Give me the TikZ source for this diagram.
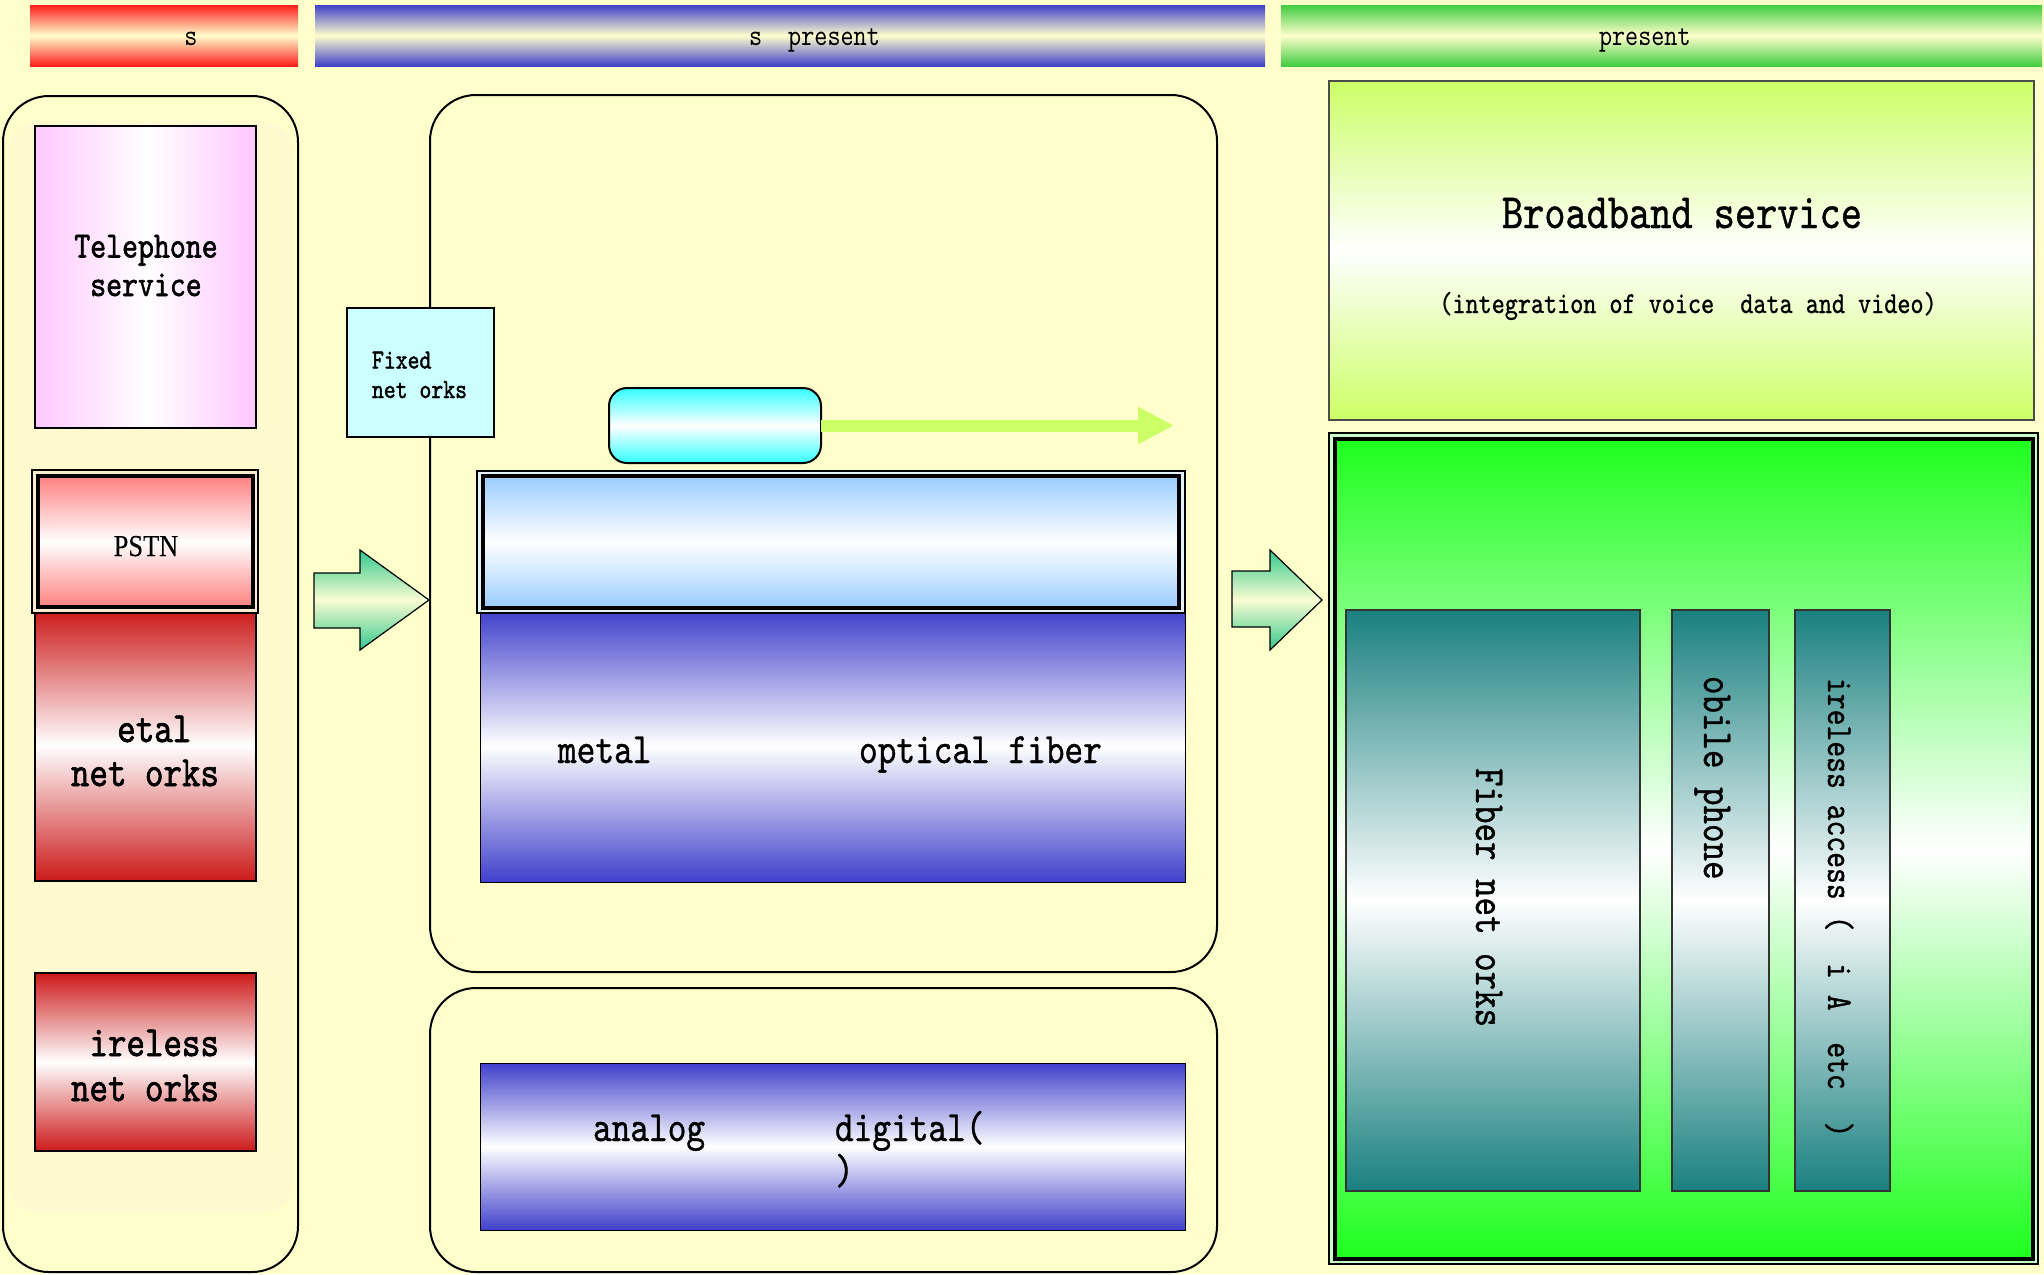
\documentclass[tikz,border=0pt]{standalone}
\usepackage{fontspec}
\usetikzlibrary{arrows.meta}
\newfontfamily\fntl{lmmono10-regular.otf}[FakeStretch=0.82]
\newfontfamily\fnt{lmmono10-regular.otf}[FakeStretch=0.82,FakeBold=0.8]
\newfontfamily\fntb{lmmono10-regular.otf}[FakeStretch=0.82,FakeBold=1.5]
\newfontfamily\pstnfont{Liberation Serif}[FakeStretch=0.87,FakeBold=0.3]
\definecolor{bgc}{RGB}{255,255,204}
\definecolor{texc}{RGB}{254,249,206}
\definecolor{redbar}{RGB}{255,30,30}
\definecolor{bluebar}{RGB}{64,64,204}
\definecolor{greenbar}{RGB}{64,204,64}
\definecolor{telpink}{RGB}{255,200,255}
\definecolor{pstnpink}{RGB}{255,128,128}
\definecolor{gappink}{RGB}{255,235,205}
\definecolor{darkred}{RGB}{204,26,26}
\definecolor{cyanc}{RGB}{51,255,255}
\definecolor{fixedc}{RGB}{204,255,255}
\definecolor{limec}{RGB}{204,255,102}
\definecolor{lblue}{RGB}{153,204,255}
\definecolor{gapblue}{RGB}{230,242,250}
\definecolor{brgreen}{RGB}{30,255,30}
\definecolor{gapgreen}{RGB}{200,255,200}
\definecolor{tealc}{RGB}{26,128,128}
\definecolor{arrg}{RGB}{50,200,140}
\definecolor{arrm}{RGB}{250,252,210}
\newcommand\mkbox[6]{%
  \pgfmathsetmacro\mbcx{(#3+#5)/2}%
  \pgfmathsetmacro\mbcy{(#4+#6)/2}%
  \pgfmathsetmacro\mbw{(#5-#3)/2}%
  \pgfmathsetmacro\mbh{(#6-#4)/2}%
  \node[#1,minimum width=\mbw pt,minimum height=\mbh pt,inner sep=0pt,outer sep=0pt] (#2) at (\mbcx,\mbcy) {};}
\tikzset{
  vg/.style 2 args={top color=#1,bottom color=#1,middle color=#2},
  hg/.style 2 args={left color=#1,right color=#1,middle color=#2},
  thinbox/.style={draw=black,line width=0.9pt},
  container/.style={draw=black,line width=1pt,rounded corners=23pt},
  txt/.style={inner sep=0pt,outer sep=0pt},
  blockarrow/.style={draw=black,line width=0.6pt,top color=arrg,bottom color=arrg,middle color=arrm},
}
\begin{document}
\begin{tikzpicture}[x=0.5pt,y=-0.5pt]
\fill[bgc] (0,0) rectangle (2044,1274);
\useasboundingbox (0,0) rectangle (2044,1274);
% top bars
\mkbox{vg={redbar}{bgc}}{barA}{30}{5}{298}{66}
\mkbox{vg={bluebar}{bgc}}{barB}{315}{5}{1265}{66}
\mkbox{vg={greenbar}{bgc}}{barC}{1281}{5}{2042}{66}
% left column
\mkbox{container}{leftc}{3}{96}{298}{1272}
\mkbox{fill=texc,rounded corners=15pt}{texture}{8}{121}{293}{1213}
\mkbox{thinbox,hg={telpink}{white}}{tel}{35}{126}{256}{428}
\mkbox{thinbox,vg={darkred}{white}}{metalnet}{35}{610}{256}{881}
\mkbox{draw=black,line width=1pt,fill=gappink}{pstnout}{32}{470}{258}{613}
\mkbox{draw=black,line width=1.6pt,vg={pstnpink}{white}}{pstn}{38}{476}{253}{607}
\mkbox{thinbox,vg={darkred}{white}}{wirenet}{35}{973}{256}{1151}
% arrow 1
\path[blockarrow] (314,573) -- (360,573) -- (360,550) -- (429,600) -- (360,650) -- (360,628) -- (314,628) -- cycle;
% middle column
\mkbox{container}{midtop}{430}{95}{1217}{972}
\mkbox{container}{midbot}{430}{988}{1217}{1272}
\mkbox{thinbox,fill=fixedc}{fixed}{347}{308}{494}{437}
\mkbox{draw=black,line width=1pt,rounded corners=9pt,vg={cyanc}{white}}{cyanbox}{609}{388}{821}{463}
\coordinate (gtip) at (1174,425.5);
\draw[limec,line width=6pt,-{Triangle[length=18pt,width=17.5pt]}] (cyanbox.east) -- (gtip);
\mkbox{draw=black,line width=0.5pt,vg={bluebar}{white}}{bluebox}{480}{610}{1185}{882}
\mkbox{draw=black,line width=1pt,fill=gapblue}{lbout}{477}{471}{1185}{613}
\mkbox{draw=black,line width=1.6pt,vg={lblue}{white}}{lbbox}{483}{476}{1179}{608}
\mkbox{draw=black,line width=0.5pt,vg={bluebar}{white}}{adbox}{480}{1063}{1185}{1230}
% arrow 2
\path[blockarrow] (1232,571) -- (1270,571) -- (1270,550) -- (1322,600) -- (1270,650) -- (1270,627) -- (1232,627) -- cycle;
% right column
\mkbox{draw=black!70,line width=1pt,vg={limec}{white}}{broad}{1329}{81}{2034}{420}
\mkbox{draw=black,line width=1pt,fill=gapgreen}{gout}{1329}{433}{2038}{1264}
\mkbox{draw=black,line width=1.6pt,vg={brgreen}{white}}{gin}{1335}{439}{2033}{1259}
\mkbox{draw=black!80,line width=0.7pt,vg={tealc}{white}}{fiber}{1346}{610}{1640}{1191}
\mkbox{draw=black!80,line width=0.7pt,vg={tealc}{white}}{mobile}{1672}{610}{1769}{1191}
\mkbox{draw=black!80,line width=0.7pt,vg={tealc}{white}}{wacc}{1795}{610}{1890}{1191}
% texts (for multi-line nodes, base = baseline of the last line)
\node[txt,anchor=base,font=\fntl\fontsize{15.2}{18}\selectfont] (tA) at (191,46) {s};
\node[txt,anchor=base west,font=\fntl\fontsize{15.2}{18}\selectfont] (tB) at (749,46) {s~~present};
\node[txt,anchor=base west,font=\fntl\fontsize{15.2}{18}\selectfont] (tC) at (1599,46) {present};
\node[txt,anchor=base,align=center,font=\fntb\fontsize{18.5}{19.25}\selectfont] (tTel) at (146,296) {Telephone\\service};
\node[txt,anchor=base west,align=left,font=\fntb\fontsize{13.8}{14.75}\selectfont] (tFix) at (372,398) {Fixed\\net~orks};
\node[txt,anchor=base,font=\pstnfont\fontsize{15.2}{17}\selectfont] (tPstn) at (146,556) {PSTN};
\node[txt,anchor=base,align=center,font=\fntb\fontsize{21.5}{22}\selectfont] (tMet) at (145,786) {\hphantom{n}etal\\net~orks};
\node[txt,anchor=base,align=center,font=\fntb\fontsize{21.5}{22.5}\selectfont] (tWir) at (145,1101) {\hphantom{n}ireless\\net~orks};
\node[txt,anchor=base west,font=\fnt\fontsize{21.7}{22}\selectfont] (tMetal) at (558,763) {metal};
\node[txt,anchor=base west,font=\fnt\fontsize{21.7}{22}\selectfont] (tOpt) at (859,763) {optical~fiber};
\node[txt,anchor=base west,font=\fnt\fontsize{21.7}{22}\selectfont] (tAna) at (593,1141) {analog};
\node[txt,anchor=base west,align=left,font=\fnt\fontsize{21.7}{21.5}\selectfont] (tDig) at (835,1184) {digital(\\)};
\node[txt,anchor=base,font=\fnt\fontsize{24.6}{26}\selectfont] (tBroad) at (1682,228) {Broadband~service};
\node[txt,anchor=base,font=\fnt\fontsize{15.2}{18}\selectfont] (tInt) at (1688,313) {(integration~of~voice~~data~and~video)};
\node[txt,rotate=-90,anchor=base west,font=\fnt\fontsize{21.5}{22}\selectfont] (tFib) at (1476,768) {Fiber~net~orks};
\node[txt,rotate=-90,anchor=base west,font=\fnt\fontsize{21.5}{22}\selectfont] (tMob) at (1704,676) {obile~phone};
\node[txt,rotate=-90,anchor=base west,font=\fnt\fontsize{18.4}{20}\selectfont] (tWac) at (1828,678) {ireless~access~(~~i~A~~etc~~)};
\end{tikzpicture}
\end{document}
